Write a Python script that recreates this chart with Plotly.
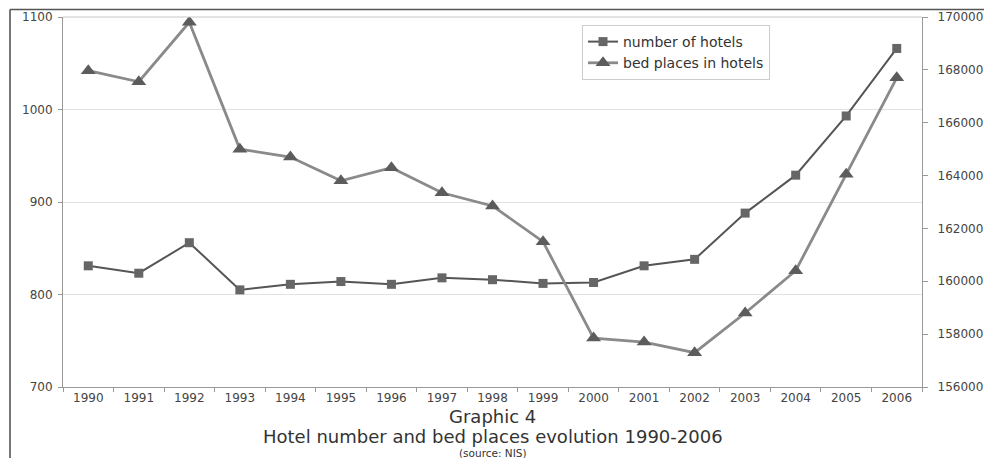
import plotly.graph_objects as go

# Hotel capacity 1990-2006 (source: NIS)
years = [str(y) for y in range(1990, 2007)]
hotels = [831, 823, 856, 805, 811, 814, 811, 818, 816, 812, 813,
          831, 838, 888, 929, 993, 1066]
bed_places = [167970, 167550, 169800, 165000, 164700, 163800, 164300,
              163350, 162850, 161500, 157850, 157700, 157300, 158800,
              160400, 164050, 167700]

left_ticks = [700, 800, 900, 1000, 1100]
right_ticks = list(range(156000, 170001, 2000))

FONT = "DejaVu Sans"
TICK_FONT = dict(family=FONT, size=12, color="#444")

fig = go.Figure()

fig.add_trace(go.Scatter(
    x=years, y=hotels, name="number of hotels",
    mode="lines+markers",
    line=dict(color="#555555", width=2),
    marker=dict(symbol="square", size=9, color="#666666"),
))
fig.add_trace(go.Scatter(
    x=years, y=bed_places, name="bed places in hotels", yaxis="y2",
    mode="lines+markers",
    line=dict(color="#8a8a8a", width=2.8),
    marker=dict(symbol="triangle-up", size=13, color="#5c5c5c"),
))

# plot-area geometry in pixels
L, R, T, B = 63, 922, 17, 387
W, H = R - L, B - T


def px(xp):
    return (xp - L) / W


def py(yp):
    return (B - yp) / H


frame = dict(color="#555555", width=1.6)
shapes = [
    # outer frame around the figure
    dict(type="line", xref="paper", yref="paper",
         x0=px(10), x1=px(990), y0=py(9.5), y1=py(9.5), line=frame),
    dict(type="line", xref="paper", yref="paper",
         x0=px(10), x1=px(10), y0=py(9.5), y1=py(470), line=frame),
    # plot-area top border
    dict(type="line", xref="paper", yref="paper",
         x0=0, x1=1, y0=1, y1=1, line=dict(color="#c8c8c8", width=1)),
]

annotations = [
    dict(text="Graphic 4", xref="paper", yref="paper",
         x=0.5, y=py(416), xanchor="center", yanchor="middle",
         showarrow=False, font=dict(family=FONT, size=18, color="#333")),
    dict(text="Hotel number and bed places evolution 1990-2006",
         xref="paper", yref="paper", x=0.5, y=py(436.5),
         xanchor="center", yanchor="middle", showarrow=False,
         font=dict(family=FONT, size=18, color="#333")),
    dict(text="(source: NIS)", xref="paper", yref="paper",
         x=0.5, y=py(452.5), xanchor="center", yanchor="middle",
         showarrow=False, font=dict(family=FONT, size=10.5, color="#333")),
]

fig.update_layout(
    width=984, height=458,
    margin=dict(l=L, r=984 - R, t=T, b=458 - B, autoexpand=False),
    paper_bgcolor="white", plot_bgcolor="white",
    showlegend=True,
    legend=dict(
        x=px(582), y=py(25), xanchor="left", yanchor="top",
        bordercolor="#cccccc", borderwidth=1, bgcolor="white",
        font=dict(family=FONT, size=14, color="#333"),
        tracegroupgap=0,
    ),
    xaxis=dict(
        type="category", categoryorder="array", categoryarray=years,
        range=[-0.5, len(years) - 0.5], automargin=False,
        tickson="boundaries", ticks="outside", ticklen=4,
        tickcolor="#999", showline=True, linecolor="#999", linewidth=1,
        showgrid=False, tickfont=TICK_FONT,
    ),
    yaxis=dict(
        range=[700, 1100], tickvals=left_ticks, automargin=False,
        ticks="outside", ticklen=4, tickcolor="#999",
        showline=True, linecolor="#999", linewidth=1,
        showgrid=True, gridcolor="#e2e2e2", gridwidth=1,
        zeroline=False, tickfont=TICK_FONT, ticklabelstandoff=3,
    ),
    yaxis2=dict(
        range=[156000, 170000], tickvals=right_ticks, tickformat="d",
        overlaying="y", side="right", automargin=False,
        ticks="outside", ticklen=5, tickcolor="#999",
        showline=True, linecolor="#999", linewidth=1.2,
        showgrid=False, zeroline=False, tickfont=TICK_FONT,
        ticklabelstandoff=7,
    ),
    shapes=shapes,
    annotations=annotations,
)

fig.write_html("out.html")
